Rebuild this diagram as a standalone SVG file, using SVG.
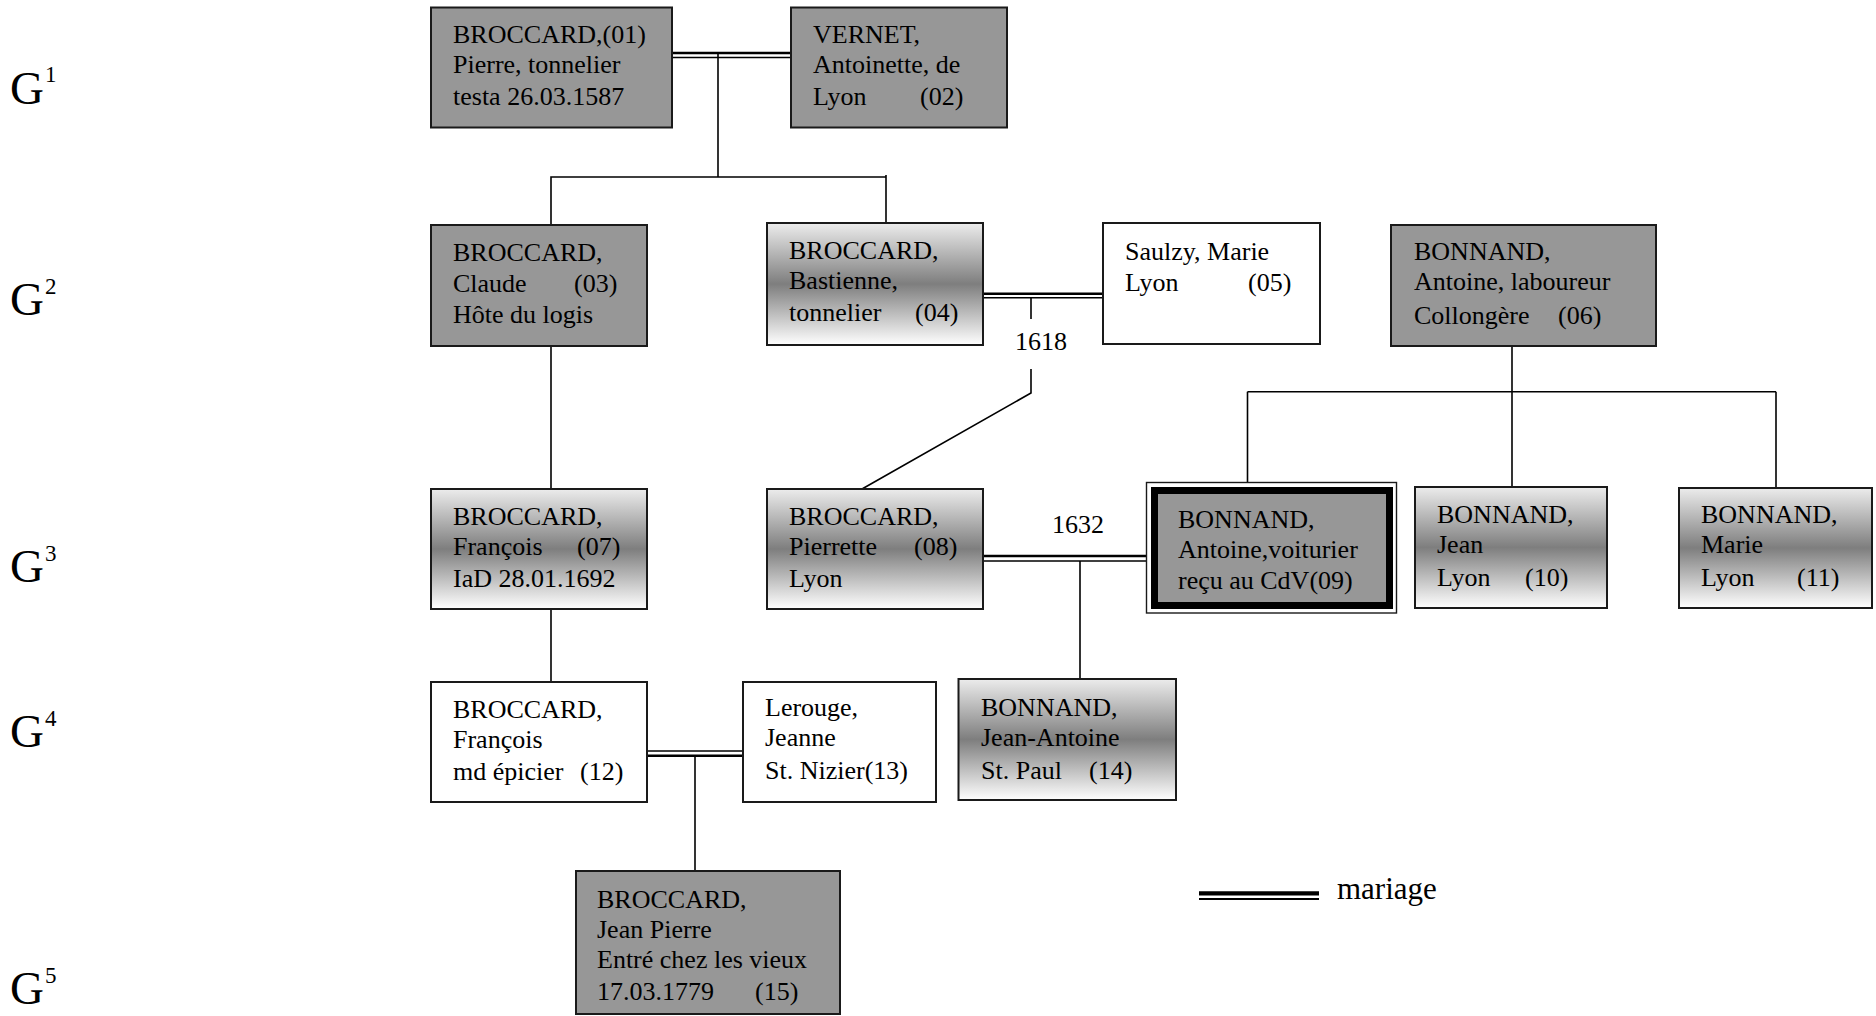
<svg xmlns="http://www.w3.org/2000/svg" width="1876" height="1016" viewBox="0 0 1876 1016">
<defs>
<linearGradient id="grad" x1="0" y1="0" x2="0" y2="1">
<stop offset="0" stop-color="#ececec"/>
<stop offset="0.5" stop-color="#7e7e7e"/>
<stop offset="1" stop-color="#ffffff"/>
</linearGradient>
</defs>
<style>
text{font-family:"Liberation Serif","Times New Roman",serif;fill:#000}
.t{font-size:26px}
.g{font-size:47px}
.s{font-size:23px}
.box{stroke:#1a1a1a;stroke-width:2}
.gray{fill:#979797}
.white{fill:#ffffff}
.grad{fill:url(#grad)}
.ln{stroke:#000;stroke-width:1.6;fill:none}
.mt{stroke:#000;stroke-width:2.4;fill:none}
.mn{stroke:#000;stroke-width:1.4;fill:none}
</style>
<rect width="1876" height="1016" fill="#ffffff"/>

<g id="generations">
<text class="g" x="10" y="104">G</text><text class="s" x="45" y="82">1</text>
<text class="g" x="10" y="315">G</text><text class="s" x="45" y="294">2</text>
<text class="g" x="10" y="582">G</text><text class="s" x="45" y="561">3</text>
<text class="g" x="10" y="747">G</text><text class="s" x="45" y="726">4</text>
<text class="g" x="10" y="1004">G</text><text class="s" x="45" y="983">5</text>
</g>

<g id="connectors">
<line class="mt" x1="672" y1="53" x2="791" y2="53"/>
<line class="mn" x1="672" y1="57.5" x2="791" y2="57.5"/>
<line class="ln" x1="718" y1="53" x2="718" y2="177"/>
<polyline class="ln" points="551,225 551,177 886,177"/>
<line class="ln" x1="886" y1="175" x2="886" y2="223"/>
<line class="mt" x1="983" y1="293.7" x2="1103" y2="293.7"/>
<line class="mn" x1="983" y1="297.7" x2="1103" y2="297.7"/>
<line class="ln" x1="1031" y1="297" x2="1031" y2="319"/>
<polyline class="ln" points="1031,369 1031,393 862,489"/>
<line class="ln" x1="551" y1="346" x2="551" y2="489"/>
<line class="ln" x1="551" y1="609" x2="551" y2="682"/>
<line class="ln" x1="1512" y1="346" x2="1512" y2="487"/>
<line class="ln" x1="1247.5" y1="391.7" x2="1776" y2="391.7"/>
<line class="ln" x1="1247.5" y1="391.7" x2="1247.5" y2="482"/>
<line class="ln" x1="1776" y1="391.7" x2="1776" y2="488"/>
<line class="mt" x1="983" y1="556" x2="1151" y2="556"/>
<line class="mn" x1="983" y1="561" x2="1151" y2="561"/>
<line class="ln" x1="1080" y1="561" x2="1080" y2="679"/>
<line class="mn" x1="647" y1="751" x2="743" y2="751"/>
<line class="mt" x1="647" y1="755.8" x2="743" y2="755.8"/>
<line class="ln" x1="695" y1="755" x2="695" y2="871"/>
<text class="t" x="1015" y="350">1618</text>
<text class="t" x="1052" y="533">1632</text>
</g>

<g id="n01">
<rect class="box gray" x="431" y="7.5" width="241" height="120"/>
<text class="t" x="453" y="43">BROCCARD,(01)</text>
<text class="t" x="453" y="73">Pierre, tonnelier</text>
<text class="t" x="453" y="105">testa 26.03.1587</text>
</g>
<g id="n02">
<rect class="box gray" x="791" y="7.5" width="216" height="120"/>
<text class="t" x="813" y="43">VERNET,</text>
<text class="t" x="813" y="73">Antoinette, de</text>
<text class="t" x="813" y="105">Lyon</text><text class="t" x="920" y="105">(02)</text>
</g>
<g id="n03">
<rect class="box gray" x="431" y="225" width="216" height="121"/>
<text class="t" x="453" y="261">BROCCARD,</text>
<text class="t" x="453" y="292">Claude</text><text class="t" x="574" y="292">(03)</text>
<text class="t" x="453" y="323">Hôte du logis</text>
</g>
<g id="n04">
<rect class="box grad" x="767" y="223" width="216" height="122"/>
<text class="t" x="789" y="259">BROCCARD,</text>
<text class="t" x="789" y="289">Bastienne,</text>
<text class="t" x="789" y="321">tonnelier</text><text class="t" x="915" y="321">(04)</text>
</g>
<g id="n05">
<rect class="box white" x="1103" y="223" width="217" height="121"/>
<text class="t" x="1125" y="260">Saulzy, Marie</text>
<text class="t" x="1125" y="291">Lyon</text><text class="t" x="1248" y="291">(05)</text>
</g>
<g id="n06">
<rect class="box gray" x="1391" y="225" width="265" height="121"/>
<text class="t" x="1414" y="260">BONNAND,</text>
<text class="t" x="1414" y="290">Antoine, laboureur</text>
<text class="t" x="1414" y="324">Collongère</text><text class="t" x="1558" y="324">(06)</text>
</g>
<g id="n07">
<rect class="box grad" x="431" y="489" width="216" height="120"/>
<text class="t" x="453" y="525">BROCCARD,</text>
<text class="t" x="453" y="555">François</text><text class="t" x="577" y="555">(07)</text>
<text class="t" x="453" y="587">IaD 28.01.1692</text>
</g>
<g id="n08">
<rect class="box grad" x="767" y="489" width="216" height="120"/>
<text class="t" x="789" y="525">BROCCARD,</text>
<text class="t" x="789" y="555">Pierrette</text><text class="t" x="914" y="555">(08)</text>
<text class="t" x="789" y="587">Lyon</text>
</g>
<g id="n09">
<rect x="1146.5" y="482.5" width="250" height="130.5" fill="#ffffff" stroke="#1a1a1a" stroke-width="1.4"/>
<rect x="1154.5" y="490.5" width="235" height="115" fill="#979797" stroke="#000" stroke-width="7"/>
<text class="t" x="1178" y="528">BONNAND,</text>
<text class="t" x="1178" y="558">Antoine,voiturier</text>
<text class="t" x="1178" y="589">reçu au CdV(09)</text>
</g>
<g id="n10">
<rect class="box grad" x="1415" y="487" width="192" height="121"/>
<text class="t" x="1437" y="523">BONNAND,</text>
<text class="t" x="1437" y="553">Jean</text>
<text class="t" x="1437" y="586">Lyon</text><text class="t" x="1525" y="586">(10)</text>
</g>
<g id="n11">
<rect class="box grad" x="1679" y="488" width="193" height="120"/>
<text class="t" x="1701" y="523">BONNAND,</text>
<text class="t" x="1701" y="553">Marie</text>
<text class="t" x="1701" y="586">Lyon</text><text class="t" x="1797" y="586">(11)</text>
</g>
<g id="n12">
<rect class="box white" x="431" y="682" width="216" height="120"/>
<text class="t" x="453" y="718">BROCCARD,</text>
<text class="t" x="453" y="748">François</text>
<text class="t" x="453" y="780">md épicier</text><text class="t" x="580" y="780">(12)</text>
</g>
<g id="n13">
<rect class="box white" x="743" y="682" width="193" height="120"/>
<text class="t" x="765" y="716">Lerouge,</text>
<text class="t" x="765" y="746">Jeanne</text>
<text class="t" x="765" y="779">St. Nizier(13)</text>
</g>
<g id="n14">
<rect class="box grad" x="958.5" y="679" width="217.5" height="121"/>
<text class="t" x="981" y="716">BONNAND,</text>
<text class="t" x="981" y="746">Jean-Antoine</text>
<text class="t" x="981" y="779">St. Paul</text><text class="t" x="1089" y="779">(14)</text>
</g>
<g id="n15">
<rect class="box gray" x="576" y="871" width="264" height="143"/>
<text class="t" x="597" y="908">BROCCARD,</text>
<text class="t" x="597" y="938">Jean Pierre</text>
<text class="t" x="597" y="968">Entré chez les vieux</text>
<text class="t" x="597" y="1000">17.03.1779</text><text class="t" x="755" y="1000">(15)</text>
</g>

<g id="legend">
<line x1="1199" y1="893.3" x2="1319" y2="893.3" stroke="#000" stroke-width="4.2"/>
<line x1="1199" y1="899" x2="1319" y2="899" stroke="#000" stroke-width="1.8"/>
<text x="1337" y="899" style="font-size:31px">mariage</text>
</g>
</svg>
